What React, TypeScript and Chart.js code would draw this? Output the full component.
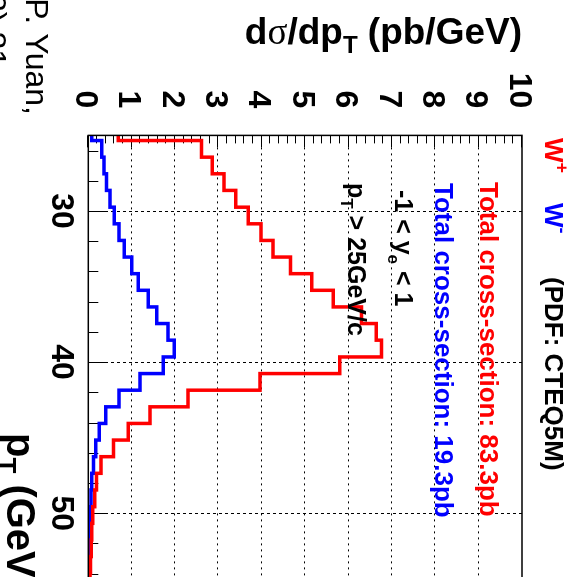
import React, { useEffect, useRef } from 'react';
import { Chart, registerables } from 'chart.js';

Chart.register(...registerables);

// pT bin lower edges (GeV/c), last entry closes the last bin
const binEdges = [
  24.24, 25.34, 26.44, 27.54, 28.64, 29.75, 30.85, 31.95, 33.05, 34.15,
  35.25, 36.35, 37.45, 38.55, 39.66, 40.76, 41.86, 42.96, 44.06, 45.16,
  46.26, 47.36, 48.46, 49.57, 50.67, 51.77, 52.87, 53.97, 55.07, 56.17, 57.27,
];
// dσ/dpT (pb/GeV) for W+ (red)
const wPlus = [
  0.69, 2.61, 2.86, 3.13, 3.40, 3.69, 3.98, 4.26, 4.66, 5.15,
  5.65, 6.30, 6.64, 6.76, 5.80, 3.96, 2.30, 1.42, 0.92, 0.58,
  0.29, 0.19, 0.15, 0.10, 0.08, 0.07, 0.05, 0.04, 0.03, 0.03,
];
// dσ/dpT (pb/GeV) for W- (blue)
const wMinus = [
  0.08, 0.31, 0.36, 0.42, 0.50, 0.60, 0.71, 0.83, 1.00, 1.15,
  1.38, 1.58, 1.84, 1.98, 1.73, 1.19, 0.71, 0.40, 0.25, 0.17,
  0.12, 0.08, 0.06, 0.05, 0.04, 0.03, 0.02, 0.02, 0.01, 0.01,
];
const pTTicks = [30, 40, 50];
const pTGrid = [30, 40, 50];
const valueGrid = [1, 2, 3, 4, 5, 6, 7, 8, 9];
const pTMin = 25;
const pTMax = 57;
const valueMin = 0;
const valueMax = 10;

const FONT = "'Liberation Sans', Arial, Helvetica, sans-serif";
const SERIF = "'Liberation Serif', 'Times New Roman', serif";

type Part = { t: string; size: number; dy?: number; color?: string; weight?: string; family?: string };

function partsWidth(ctx: CanvasRenderingContext2D, parts: Part[]) {
  let w = 0;
  for (const p of parts) {
    ctx.font = `${p.weight ?? 'bold'} ${p.size}px ${p.family ?? FONT}`;
    w += ctx.measureText(p.t).width;
  }
  return w;
}

function drawParts(ctx: CanvasRenderingContext2D, parts: Part[], x: number, y: number, align: 'left' | 'right' = 'left') {
  const total = partsWidth(ctx, parts);
  let cx = align === 'right' ? x - total : x;
  ctx.textAlign = 'left';
  ctx.textBaseline = 'alphabetic';
  for (const p of parts) {
    ctx.font = `${p.weight ?? 'bold'} ${p.size}px ${p.family ?? FONT}`;
    ctx.fillStyle = p.color ?? '#000';
    ctx.fillText(p.t, cx, y + (p.dy ?? 0));
    cx += ctx.measureText(p.t).width;
  }
}

function toPoints(values: number[]) {
  const pts = values.map((v, i) => ({ x: binEdges[i], y: v }));
  pts.push({ x: binEdges[values.length], y: values[values.length - 1] });
  return pts;
}

const framePlugin = {
  id: 'rootFrame',
  beforeDatasetsDraw(chart: any) {
    const { ctx, chartArea: a, scales } = chart;
    const xs = scales.x;
    const ys = scales.y;
    ctx.save();
    ctx.strokeStyle = '#000';
    ctx.lineWidth = 1;
    // value grid (dotted)
    ctx.setLineDash([2, 4]);
    for (const v of valueGrid) {
      const y = Math.round(ys.getPixelForValue(v)) + 0.5;
      ctx.beginPath();
      ctx.moveTo(a.left, y);
      ctx.lineTo(a.right, y);
      ctx.stroke();
    }
    // pT grid (dashed)
    ctx.setLineDash([3, 3]);
    for (const p of pTGrid) {
      const x = Math.round(xs.getPixelForValue(p)) + 0.5;
      ctx.beginPath();
      ctx.moveTo(x, a.top);
      ctx.lineTo(x, a.bottom);
      ctx.stroke();
    }
    ctx.setLineDash([]);
    // value axis ticks (inside, from left edge)
    for (let i = 0; i <= 50; i++) {
      const v = valueMin + (i * (valueMax - valueMin)) / 50;
      const y = Math.round(ys.getPixelForValue(v)) + 0.5;
      const len = i % 5 === 0 ? 12 : 8;
      ctx.beginPath();
      ctx.moveTo(a.left, y);
      ctx.lineTo(a.left + len, y);
      ctx.stroke();
    }
    // pT ticks (inside, from bottom edge)
    for (let p = 26; p < pTMax; p += 2) {
      const x = Math.round(xs.getPixelForValue(p)) + 0.5;
      const len = p % 10 === 0 ? 18 : 10;
      ctx.beginPath();
      ctx.moveTo(x, a.bottom);
      ctx.lineTo(x, a.bottom - len);
      ctx.stroke();
    }
    ctx.restore();
  },
  afterDraw(chart: any) {
    const { ctx, chartArea: a } = chart;
    ctx.save();
    // frame
    ctx.strokeStyle = '#000';
    ctx.lineWidth = 1.5;
    ctx.strokeRect(a.left, a.top, a.right - a.left, a.bottom - a.top);

    // legend block
    drawParts(ctx, [
      { t: 'W', size: 26, color: '#ff0000' },
      { t: '+', size: 18, dy: -11, color: '#ff0000' },
    ], 138, 29);
    drawParts(ctx, [
      { t: 'W', size: 26, color: '#0000ff' },
      { t: '-', size: 18, dy: -11, color: '#0000ff' },
    ], 203, 29);
    drawParts(ctx, [{ t: '(PDF: CTEQ5M)', size: 26 }], 277, 29);
    drawParts(ctx, [{ t: 'Total cross-section: 83.3pb', size: 26, color: '#ff0000' }], 182, 94);
    drawParts(ctx, [{ t: 'Total cross-section: 19.3pb', size: 26, color: '#0000ff' }], 183, 139);
    drawParts(ctx, [
      { t: '-1 < y', size: 25 },
      { t: 'e', size: 17, dy: 7 },
      { t: ' < 1', size: 25 },
    ], 190, 179);
    drawParts(ctx, [
      { t: 'p', size: 25 },
      { t: 'T', size: 17, dy: 7 },
      { t: ' > 25GeV/c', size: 25 },
    ], 183, 226);

    // x-axis title
    drawParts(ctx, [
      { t: 'p', size: 40 },
      { t: 'T', size: 26, dy: 9 },
      { t: ' (GeV/c)', size: 40 },
    ], 433, 567);

    // y-axis title (rotated)
    ctx.save();
    ctx.translate(44, a.top);
    ctx.rotate(-Math.PI / 2);
    drawParts(ctx, [
      { t: 'd', size: 37 },
      { t: 'σ', size: 37, weight: 'normal', family: SERIF },
      { t: '/dp', size: 37 },
      { t: 'T', size: 24, dy: 9 },
      { t: ' (pb/GeV)', size: 37 },
    ], 0, 0, 'right');
    ctx.restore();

    // reference caption
    drawParts(ctx, [{ t: 'C.-P. Yuan,', size: 32, weight: 'normal' }], 115, 548, 'right');
    drawParts(ctx, [{ t: '(2002) 21', size: 32, weight: 'normal' }], 67, 590, 'right');
    ctx.restore();
  },
};

export default function App() {
  const ref = useRef<HTMLCanvasElement>(null);
  useEffect(() => {
    const canvas = ref.current;
    if (!canvas) return;
    const tickFont = { family: FONT, size: 32, weight: 'bold' as const };
    const chart = new Chart(canvas, {
      type: 'line',
      data: {
        datasets: [
          {
            data: toPoints(wPlus),
            borderColor: '#ff0000',
            borderWidth: 3.5,
            stepped: true,
            pointRadius: 0,
            fill: false,
          },
          {
            data: toPoints(wMinus),
            borderColor: '#0000ff',
            borderWidth: 3.5,
            stepped: true,
            pointRadius: 0,
            fill: false,
          },
        ],
      },
      options: {
        responsive: false,
        animation: false,
        events: [],
        layout: { padding: { top: 52, right: 21, left: 0, bottom: 0 } },
        plugins: { legend: { display: false }, tooltip: { enabled: false } },
        scales: {
          x: {
            type: 'linear',
            min: pTMin,
            max: pTMax,
            grid: { display: false, drawTicks: false, tickLength: 0 },
            border: { display: false },
            ticks: { font: tickFont, color: '#000', padding: 8, maxRotation: 0, autoSkip: false },
            afterBuildTicks: (s: any) => {
              s.ticks = pTTicks.map((v) => ({ value: v }));
            },
            afterFit: (s: any) => {
              s.height = 88.3;
            },
          },
          y: {
            type: 'linear',
            min: valueMin,
            max: valueMax,
            grid: { display: false, drawTicks: false, tickLength: 0 },
            border: { display: false },
            ticks: { font: tickFont, color: '#000', stepSize: 1, padding: 27, labelOffset: 3.5 },
            afterFit: (s: any) => {
              s.width = 135.4;
            },
          },
        },
      },
      plugins: [framePlugin],
    });
    return () => chart.destroy();
  }, []);
  return (
    <div style={{ position: 'fixed', left: 0, top: 0, width: 574, height: 577, overflow: 'hidden', background: '#fff' }}>
      <canvas
        ref={ref}
        width={640}
        height={574}
        style={{
          position: 'absolute',
          left: 0,
          top: 0,
          width: 640,
          height: 574,
          transformOrigin: '0 0',
          transform: 'translate(574px, 0px) rotate(90deg)',
        }}
      />
    </div>
  );
}
